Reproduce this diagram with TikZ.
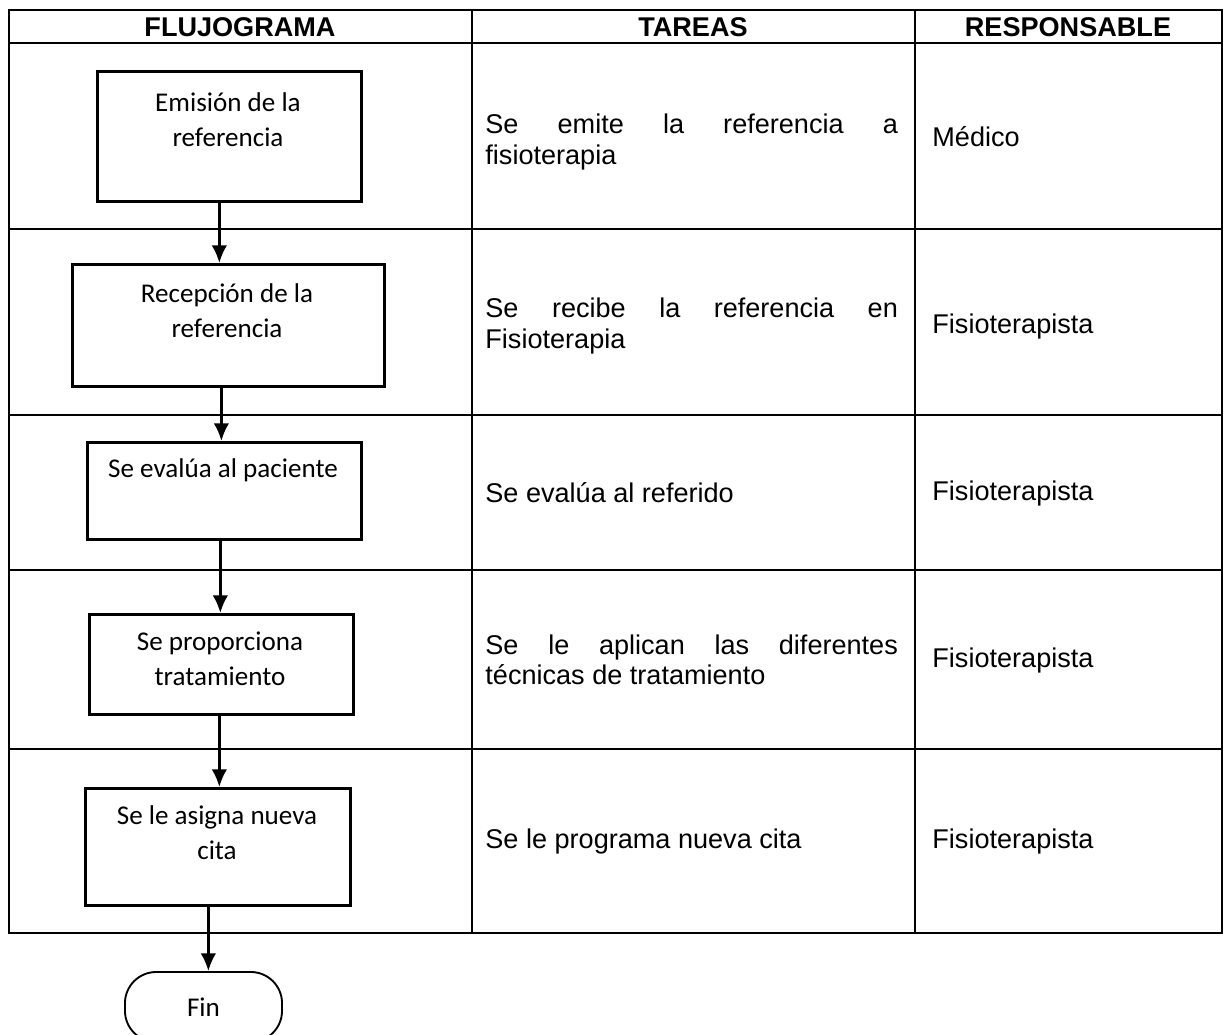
\documentclass[tikz,border=0pt]{standalone}
\usepackage{fontspec}
\setmainfont{Liberation Sans}
\newfontfamily\flowfont{Carlito}
\usetikzlibrary{arrows.meta,positioning}

\begin{document}
\begin{tikzpicture}[x=0.48pt,y=-0.48pt,
    every node/.style={inner sep=0pt,font=\fontsize{13}{14.6}\selectfont},
    grid/.style={line width=.85pt},
    stepbox/.style={draw,line width=1.3pt,anchor=north west},
    steptext/.style={align=center,font=\flowfont\fontsize{13}{16.8}\selectfont},
    head/.style={font=\bfseries\fontsize{13}{14}\selectfont},
    task/.style={anchor=west,text width=198pt,align=justify},
    who/.style={anchor=west},
    arr/.style={line width=1.3pt,-{Latex[length=8.5pt,width=7.5pt]}}]
  \useasboundingbox (0,0) rectangle (1225,1035);
  % table
  \draw[grid] (9,10) rectangle (1222,933);
  \draw[grid] (9,43) -- (1222,43);
  \foreach \y in {229,415,570,749} \draw[grid] (9,\y) -- (1222,\y);
  \foreach \x in {472,915} \draw[grid] (\x,10) -- (\x,933);
  \node[head] (h1) at (240,27) {FLUJOGRAMA};
  \node[head] (h2) at (693,27) {TAREAS};
  \node[head] (h3) at (1068,27) {RESPONSABLE};
  % flow
  \node[stepbox,minimum width=126.7pt,minimum height=62.4pt] (b1) at (96,70) {};
  \node[stepbox,minimum width=149.8pt,minimum height=58.6pt] (b2) at (71,263) {};
  \node[stepbox,minimum width=131.5pt,minimum height=46.6pt] (b3) at (86,441) {};
  \node[stepbox,minimum width=126.7pt,minimum height=48pt] (b4) at (88,613) {};
  \node[stepbox,minimum width=127.2pt,minimum height=56.2pt] (b5) at (84,787) {};
  \node[draw,line width=.9pt,rounded corners=15pt,minimum width=75.4pt,minimum height=33.6pt,
    font=\flowfont\fontsize{13}{16.8}\selectfont] (fin) at (203.5,1007) {Fin};
  \node[steptext] (t1) at (228,120) {Emisión de la\\referencia};
  \node[steptext] (t2) at (227,311) {Recepción de la\\referencia};
  \node[steptext] (t3) at (223,470) {Se evalúa al paciente};
  \node[steptext] (t4) at (220,659) {Se proporciona\\tratamiento};
  \node[steptext] (t5) at (217,833) {Se le asigna nueva\\cita};
  \foreach \a/\b/\dx in {b1/b2/-10,b2/b3/-7,b3/b4/-4,b4/b5/-2,b5/fin/-9.5}
    \draw[arr] ([xshift=\dx*0.48pt]\a.south) coordinate (s) -- (s |- \b.north);
  % tasks
  \node[task] (k1) at (485,142) {Se emite la referencia a\linebreak fisioterapia};
  \node[task] (k2) at (485,326) {Se recibe la referencia en\linebreak Fisioterapia};
  \node[task] (k3) at (485,493) {Se evalúa al referido};
  \node[task] (k4) at (485,660) {Se le aplican las diferentes\linebreak técnicas de tratamiento};
  \node[task] (k5) at (485,841) {Se le programa nueva cita};
  % who
  \node[who] (r1) at (932,137) {Médico};
  \node[who] (r2) at (932,326) {Fisioterapista};
  \node[who] (r3) at (932,493) {Fisioterapista};
  \node[who] (r4) at (932,660) {Fisioterapista};
  \node[who] (r5) at (932,841) {Fisioterapista};
\end{tikzpicture}
\end{document}
